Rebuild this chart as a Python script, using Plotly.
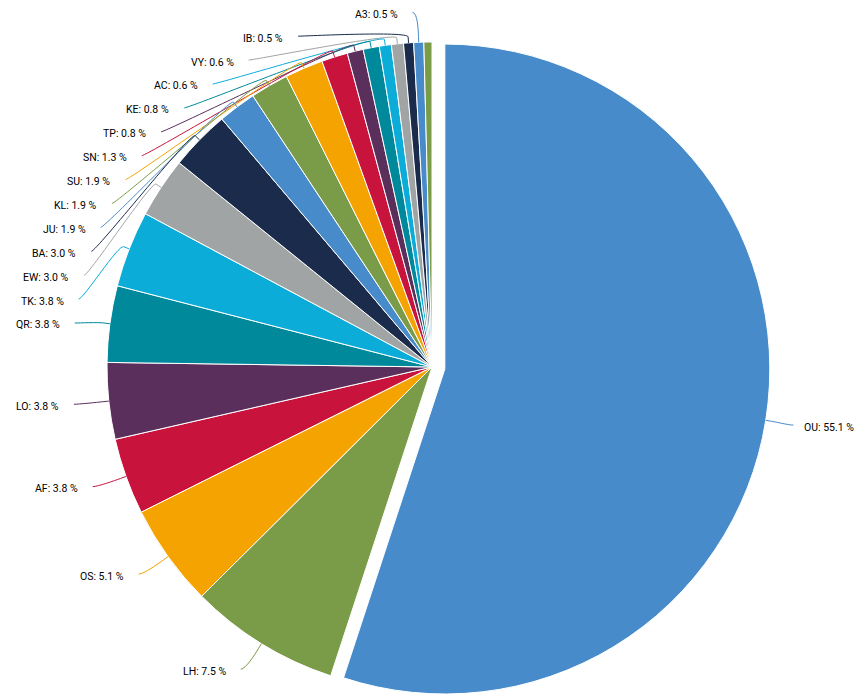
import math
import plotly.graph_objects as go

# ---------------- data ----------------
labels = ["OU", "LH", "OS", "AF", "LO", "QR", "TK", "EW", "BA", "JU",
          "KL", "SU", "SN", "TP", "KE", "AC", "VY", "IB", "A3", "n/a"]
values = [55.1, 7.5, 5.1, 3.8, 3.8, 3.8, 3.8, 3.0, 3.0, 1.9,
          1.9, 1.9, 1.3, 0.8, 0.8, 0.6, 0.6, 0.5, 0.5, 0.4]
show_label = [True] * 19 + [False]
palette = ["#478BCA", "#7A9C48", "#F5A300", "#C8143D", "#5B2F5C",
           "#00899B", "#0CACD9", "#A1A4A5", "#1A2B4C"]

# ---------------- geometry / style ----------------
W, H = 858, 694
CX, CY, R = 432.0, 367.0, 325.0
PULL_PX = 13.0
LABEL_DIST = 30.0
SPACING = 23.9
TRANSP = "rgba(0,0,0,0)"
FONT = dict(family="Roboto, Lato, sans-serif", size=10.5, color="#000000")

colors = [palette[i % len(palette)] for i in range(len(values))]
total = sum(values)
mids = []
acc = 0.0
for v in values:
    mids.append((acc + v / 2.0) / total * 360.0)
    acc += v

th0 = math.radians(mids[0])
off_x, off_y = PULL_PX * math.sin(th0), -PULL_PX * math.cos(th0)


def clamp01(v):
    return min(1.0, max(0.0, v))


def domain(cx, cy, r):
    return dict(x=[clamp01((cx - r) / W), clamp01((cx + r) / W)],
                y=[clamp01(1 - (cy + r) / H), clamp01(1 - (cy - r) / H)])


def px(x):
    return x / W


def py(y):
    return 1 - y / H


fig = go.Figure()
# main pie (pulled slice left transparent)
fig.add_trace(go.Pie(
    labels=labels, values=values, sort=False, direction="clockwise", rotation=0,
    marker=dict(colors=[TRANSP] + colors[1:],
                line=dict(color=[TRANSP] + ["#FFFFFF"] * (len(values) - 1), width=1)),
    textinfo="none", hoverinfo="label+value", showlegend=False,
    domain=domain(CX, CY, R),
))
# pulled-out slice
fig.add_trace(go.Pie(
    labels=labels, values=values, sort=False, direction="clockwise", rotation=0,
    marker=dict(colors=[colors[0]] + [TRANSP] * (len(values) - 1),
                line=dict(color=["#FFFFFF"] + [TRANSP] * (len(values) - 1), width=1)),
    textinfo="none", hoverinfo="skip", showlegend=False,
    domain=domain(CX + off_x, CY + off_y, R),
))

rL = R + LABEL_DIST


def get_x(y, left, cx, cy):
    d = max(-1.0, min(1.0, (y - cy) / rL))
    a = math.asin(d)
    s = -1 if left else 1
    return cx + s * math.cos(a) * rL + s * 5


# label placement (left side stacked from top)
pos = {}
left_idx = [i for i in range(len(values)) if mids[i] > 180 and show_label[i]]
left_idx.sort(key=lambda i: CY - rL * math.cos(math.radians(mids[i])))
prev = None
for i in left_idx:
    yn = CY - rL * math.cos(math.radians(mids[i]))
    if prev is not None:
        yn = max(yn, prev + SPACING)
    prev = yn
    pos[i] = (get_x(yn, True, CX, CY), yn, True, CX, CY)
for i in range(len(values)):
    if mids[i] <= 180 and show_label[i]:
        cx, cy = (CX + off_x, CY + off_y) if i == 0 else (CX, CY)
        yn = cy - rL * math.cos(math.radians(mids[i]))
        pos[i] = (get_x(yn, False, cx, cy) - 7, yn, False, cx, cy)

shapes, annotations = [], []
for i, (lx, ly, left, cx, cy) in pos.items():
    th = math.radians(mids[i])
    ux, uy = math.sin(th), -math.cos(th)
    tx, ty = cx + R * ux, cy + R * uy
    bx, by = cx + (R + 6) * ux, cy + (R + 6) * uy
    c1x = lx + (5 if left else -5)
    c2x, c2y = 2 * bx - tx, 2 * by - ty
    path = (f"M {px(lx):.5f},{py(ly):.5f} C {px(c1x):.5f},{py(ly):.5f} "
            f"{px(c2x):.5f},{py(c2y):.5f} {px(bx):.5f},{py(by):.5f} "
            f"L {px(tx):.5f},{py(ty):.5f}")
    shapes.append(dict(type="path", path=path, xref="paper", yref="paper",
                       line=dict(color=colors[i], width=1)))
    annotations.append(dict(
        x=px(lx - 13 if left else lx + 9), y=py(ly + 2.0), xref="paper", yref="paper",
        xanchor="right" if left else "left", yanchor="middle", showarrow=False,
        text=f"{labels[i]}: {values[i]:.1f} %", font=FONT))

fig.update_layout(
    width=W, height=H, margin=dict(l=0, r=0, t=0, b=0),
    paper_bgcolor="#FFFFFF", plot_bgcolor="#FFFFFF",
    shapes=shapes, annotations=annotations, showlegend=False,
)

fig.write_html("out.html", config={"displayModeBar": False},
               post_script="document.body.style.margin='0';document.body.style.overflow='hidden';")
